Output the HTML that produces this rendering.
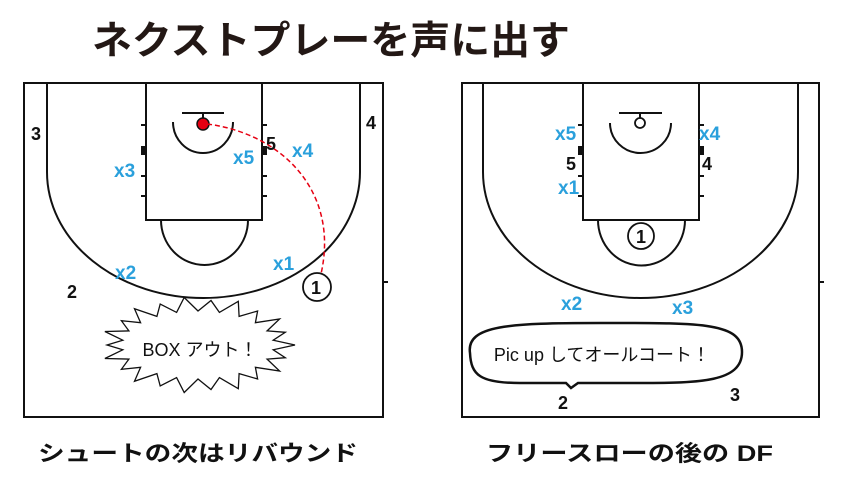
<!DOCTYPE html>
<html><head><meta charset="utf-8"><style>
html,body{margin:0;padding:0;background:#fff;}
svg{display:block;}
text{font-family:"Liberation Sans","Noto Sans CJK JP",sans-serif;}
.b{font-weight:bold;font-size:18px;fill:#111;}
.x{font-weight:bold;font-size:19px;fill:#2aa0dc;}
</style></head><body>
<svg width="857" height="486" viewBox="0 0 857 486" xmlns="http://www.w3.org/2000/svg">
<text x="92" y="54" font-size="39" font-weight="bold" fill="#231815" textLength="478" lengthAdjust="spacingAndGlyphs">ネクストプレーを声に出す</text>

<g fill="none" stroke="#111" stroke-width="2">
<rect x="24" y="83" width="359" height="334"/>
<rect x="146" y="83" width="116" height="137"/>
<path d="M47,83 V172 A156.5,126 0 0 0 360,172 V83"/>
<path d="M161,220 A43.5,45 0 0 0 248,220"/>
<path d="M173,122 A30,31 0 0 0 233,122"/>
<line x1="182" y1="113" x2="224" y2="113"/>
<line x1="203" y1="113" x2="203" y2="119"/>
<line x1="141" y1="125" x2="146" y2="125"/><line x1="141" y1="176" x2="146" y2="176"/><line x1="141" y1="196" x2="146" y2="196"/>
<line x1="262" y1="125" x2="267" y2="125"/><line x1="262" y1="176" x2="267" y2="176"/><line x1="262" y1="196" x2="267" y2="196"/>
<line x1="383" y1="282" x2="388" y2="282"/>
<circle cx="317" cy="287" r="14" stroke-width="1.8"/>
<rect x="462" y="83" width="357" height="334"/>
<rect x="583" y="83" width="116" height="137"/>
<path d="M483,83 V172 A157.5,126 0 0 0 798,172 V83"/>
<path d="M598,220 A43,45 0 0 0 685,220"/>
<path d="M610,123 A30.5,30 0 0 0 671,123"/>
<line x1="619" y1="113" x2="662" y2="113"/>
<line x1="640" y1="113" x2="640" y2="118"/>
<circle cx="640" cy="123" r="5" stroke-width="1.8"/>
<line x1="578" y1="125" x2="583" y2="125"/><line x1="578" y1="176" x2="583" y2="176"/><line x1="578" y1="196" x2="583" y2="196"/>
<line x1="699" y1="125" x2="704" y2="125"/><line x1="699" y1="176" x2="704" y2="176"/><line x1="699" y1="196" x2="704" y2="196"/>
<line x1="819" y1="282" x2="824" y2="282"/>
<circle cx="641" cy="236" r="13" stroke-width="1.8"/>
<path d="M470,353 C466,325 510,323 600,323 C700,323 742,322 742,352 C742,382 700,383 640,383 L578,383 L571,388 L566,383 L520,383 C480,383 471,375 470,353 Z" stroke-width="2.5"/>
</g>
<rect x="141" y="146" width="5" height="9" fill="#111"/><rect x="262" y="146" width="5" height="9" fill="#111"/>
<rect x="578" y="146" width="5" height="9" fill="#111"/><rect x="699" y="146" width="5" height="9" fill="#111"/>
<circle cx="203" cy="124" r="6" fill="#e60012" stroke="#111" stroke-width="1.5"/>
<path d="M207,124 C280,133 340,190 321,274" fill="none" stroke="#e60012" stroke-width="1.5" stroke-dasharray="5,3"/>
<polygon id="burst" fill="#fff" stroke="#111" stroke-width="1.3" points=""/>
<text x="200" y="356" font-size="18" text-anchor="middle" fill="#111">BOX アウト！</text>
<text x="602" y="361" font-size="18" text-anchor="middle" fill="#111">Pic up してオールコート！</text>

<text class="b" x="311" y="294" font-size="17">1</text>
<text class="b" x="636" y="243" font-size="17">1</text>
<text class="b" x="31" y="140">3</text>
<text class="b" x="366" y="129">4</text>
<text class="b" x="266" y="150">5</text>
<text class="x" x="292" y="157">x4</text>
<text class="x" x="233" y="164">x5</text>
<text class="x" x="114" y="177">x3</text>
<text class="x" x="115" y="279">x2</text>
<text class="x" x="273" y="270">x1</text>
<text class="b" x="67" y="298">2</text>

<text class="x" x="555" y="140">x5</text>
<text class="x" x="699" y="140">x4</text>
<text class="b" x="566" y="170">5</text>
<text class="b" x="702" y="170">4</text>
<text class="x" x="558" y="194">x1</text>
<text class="x" x="561" y="310">x2</text>
<text class="x" x="672" y="314">x3</text>
<text class="b" x="558" y="409">2</text>
<text class="b" x="730" y="401">3</text>

<text x="38" y="461" font-size="22" font-weight="bold" fill="#111" textLength="320" lengthAdjust="spacingAndGlyphs">シュートの次はリバウンド</text>
<text x="486" y="461" font-size="22" font-weight="bold" fill="#111" textLength="287" lengthAdjust="spacingAndGlyphs">フリースローの後の DF</text>
</svg>
<script>
(function(){var cx=198,cy=345,pts=[],n=44;
for(var i=0;i<n;i++){var a=i/n*2*Math.PI;var o=(i%2==0);var rx=o?97:76,ry=o?48:34;
if(o){rx+= (i%4==0?0:-6);ry+=(i%4==0?0:-3);}
pts.push((cx+rx*Math.cos(a)).toFixed(1)+","+(cy+ry*Math.sin(a)).toFixed(1));}
document.getElementById("burst").setAttribute("points",pts.join(" "));})();
</script>
</body></html>
